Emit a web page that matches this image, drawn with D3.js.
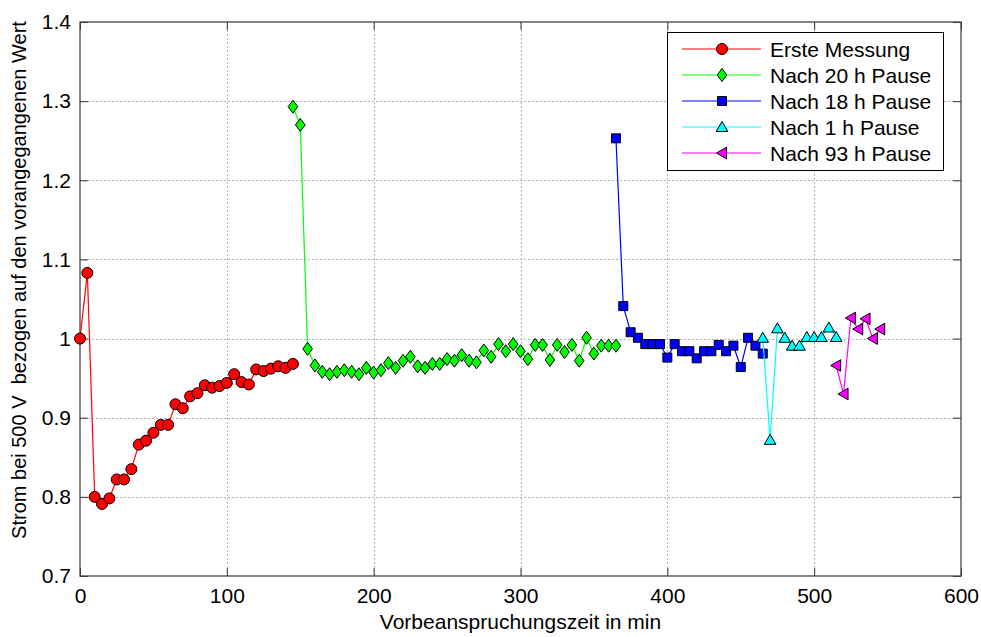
<!DOCTYPE html>
<html><head><meta charset="utf-8">
<script src="https://cdn.jsdelivr.net/npm/d3@7"></script>
<style>
html,body{margin:0;padding:0;background:#fff;}
text{font-family:"Liberation Sans",Arial,sans-serif;fill:#000;}
</style></head>
<body><svg id="chart" width="981" height="637"></svg>
<script>
// ---- data ----
const seriesNames = ["Erste Messung","Nach 20 h Pause","Nach 18 h Pause","Nach 1 h Pause","Nach 93 h Pause"];
const xErste = [0,5,10,15,20,25,30,35,40,45,50,55,60,65,70,75,80,85,90,95,100,105,110,115,120,125,130,135,140,145];
const yErste = [1.000,1.083,0.800,0.791,0.798,0.822,0.822,0.835,0.866,0.871,0.881,0.891,0.891,0.917,0.912,0.927,0.931,0.941,0.938,0.940,0.944,0.955,0.945,0.942,0.961,0.959,0.962,0.965,0.963,0.968];
const x20h = [145,150,155,160,165,170,175,180,185,190,195,200,205,210,215,220,225,230,235,240,245,250,255,260,265,270,275,280,285,290,295,300,305,310,315,320,325,330,335,340,345,350,355,360,365];
const y20h = [1.293,1.270,0.987,0.966,0.958,0.955,0.958,0.960,0.958,0.955,0.963,0.957,0.960,0.969,0.963,0.972,0.977,0.965,0.963,0.968,0.968,0.974,0.972,0.979,0.972,0.970,0.985,0.977,0.993,0.984,0.993,0.984,0.974,0.992,0.992,0.973,0.992,0.983,0.992,0.972,1.001,0.981,0.991,0.991,0.991];
const x18h = [365,370,375,380,385,390,395,400,405,410,415,420,425,430,435,440,445,450,455,460,465];
const y18h = [1.253,1.041,1.008,1.001,0.993,0.993,0.993,0.976,0.993,0.984,0.984,0.975,0.984,0.984,0.992,0.984,0.991,0.964,1.001,0.991,0.981];
const x1h = [465,470,475,480,485,490,495,500,505,510,515];
const y1h = [1.001,0.872,1.013,1.001,0.991,0.991,1.002,1.002,1.002,1.014,1.002];
const x93h = [515,520,525,530,535,540,545];
const y93h = [0.966,0.930,1.026,1.012,1.025,1.000,1.012];
const xTicks = [0,100,200,300,400,500,600];
const yTicks = [0.7,0.8,0.9,1.0,1.1,1.2,1.3,1.4];
const xLabel = "Vorbeanspruchungszeit in min";
const yLabel = "Strom bei 500 V  bezogen auf den vorangegangenen Wert";

// ---- styles ----
const colors = ["#ff0000","#00ff00","#0000ff","#00ffff","#ff00ff"];
const markers = ["circle","diamond","square","triangleUp","triangleLeft"];
const seriesX = [xErste,x20h,x18h,x1h,x93h];
const seriesY = [yErste,y20h,y18h,y1h,y93h];

const svg = d3.select("#chart");
const L=80, R=961, T=22, B=576;
const x = d3.scaleLinear().domain([0,600]).range([L,R]);
const y = d3.scaleLinear().domain([0.7,1.4]).range([B,T]);
const FS = 21;

function markerPath(type){
  switch(type){
    case "circle": return d3.symbol(d3.symbolCircle, Math.PI*5.5*5.5)();
    case "diamond": return "M0,-6.5L4.8,0L0,6.5L-4.8,0Z";
    case "square": return "M-4.5,-4.5H4.5V4.5H-4.5Z";
    case "triangleUp": return "M0,-5.5L5.8,4.5L-5.8,4.5Z";
    case "triangleLeft": return "M-5.5,0L4.5,-5.8L4.5,5.8Z";
  }
}

// grid
const grid = svg.append("g");
xTicks.filter(t=>t>0&&t<600).forEach(t=>{
  grid.append("line").attr("x1",Math.round(x(t))+0.5).attr("x2",Math.round(x(t))+0.5).attr("y1",T).attr("y2",B)
   .attr("stroke","#b4b4b4").attr("stroke-dasharray","2,2").attr("stroke-width",1);
});
yTicks.filter(t=>t>0.7&&t<1.4).forEach(t=>{
  grid.append("line").attr("x1",L).attr("x2",R).attr("y1",Math.round(y(t))+0.5).attr("y2",Math.round(y(t))+0.5)
   .attr("stroke","#b4b4b4").attr("stroke-dasharray","2,2").attr("stroke-width",1);
});

// axes via d3 axis
const axB = svg.append("g").attr("transform",`translate(0,${B})`)
  .call(d3.axisBottom(x).tickValues(xTicks).tickSizeInner(-8).tickSizeOuter(0).tickPadding(12).tickFormat(d3.format("d")));
const axL = svg.append("g").attr("transform",`translate(${L},0)`)
  .call(d3.axisLeft(y).tickValues(yTicks).tickSizeInner(-8).tickSizeOuter(0).tickPadding(9).tickFormat(d=> d===1?"1":d3.format(".1f")(d)));
const axT = svg.append("g").attr("transform",`translate(0,${T})`)
  .call(d3.axisTop(x).tickValues(xTicks).tickSizeInner(-8).tickSizeOuter(0).tickFormat(""));
const axR = svg.append("g").attr("transform",`translate(${R},0)`)
  .call(d3.axisRight(y).tickValues(yTicks).tickSizeInner(-8).tickSizeOuter(0).tickFormat(""));
[axB,axL,axT,axR].forEach(a=>{
  a.select(".domain").remove();
  a.selectAll("line").attr("stroke","#333");
  a.selectAll("text").attr("font-size",FS).attr("font-family","Liberation Sans, Arial, sans-serif").attr("fill","#000");
});
// box
svg.append("rect").attr("x",L).attr("y",T).attr("width",R-L).attr("height",B-T)
  .attr("fill","none").attr("stroke","#444").attr("stroke-width",1.3);

// series
const line = d3.line().x(d=>x(d[0])).y(d=>y(d[1]));
seriesX.forEach((xs,i)=>{
  const pts = xs.map((v,j)=>[v,seriesY[i][j]]);
  svg.append("path").datum(pts).attr("d",line).attr("fill","none").attr("stroke",colors[i]).attr("stroke-width",1.2);
  svg.append("g").selectAll("path").data(pts).join("path")
    .attr("d",markerPath(markers[i]))
    .attr("transform",d=>`translate(${x(d[0])},${y(d[1])})`)
    .attr("fill",colors[i]).attr("stroke","#000").attr("stroke-width",1);
});

// labels
svg.append("text").attr("x",(L+R)/2).attr("y",629).attr("text-anchor","middle").attr("font-size",FS).text(xLabel);
svg.append("text").attr("transform",`translate(26,280) rotate(-90)`).attr("text-anchor","middle")
  .attr("font-size",20).attr("xml:space","preserve").style("white-space","pre").text(yLabel);

// legend
const lg = svg.append("g");
lg.append("rect").attr("x",667.5).attr("y",32.5).attr("width",276).attr("height",138)
  .attr("fill","#fff").attr("stroke","#000").attr("stroke-width",1);
seriesNames.forEach((n,i)=>{
  const yy = 49 + i*26;
  lg.append("line").attr("x1",682).attr("x2",761).attr("y1",yy).attr("y2",yy).attr("stroke",colors[i]).attr("stroke-width",1.2);
  lg.append("path").attr("d",markerPath(markers[i])).attr("transform",`translate(722,${yy})`)
    .attr("fill",colors[i]).attr("stroke","#000").attr("stroke-width",1);
  lg.append("text").attr("x",770).attr("y",yy+7.5).attr("font-size",FS).text(n);
});
</script></body></html>
